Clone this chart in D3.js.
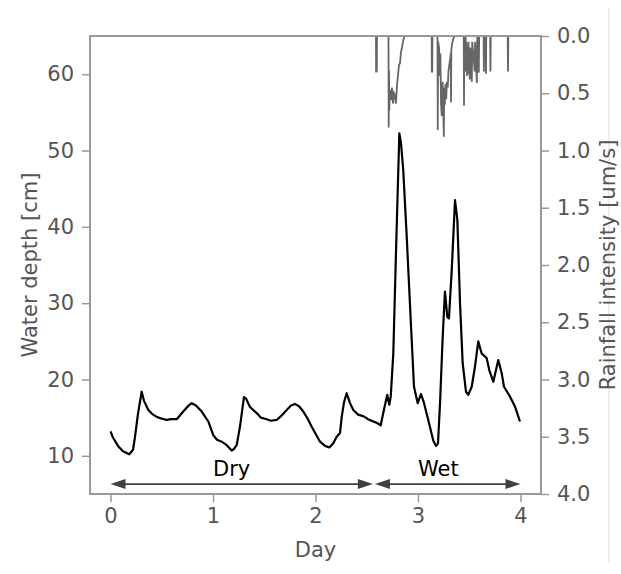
<!DOCTYPE html>
<html>
<head>
<meta charset="utf-8">
<script src="https://cdn.jsdelivr.net/npm/d3@7"></script>
<style>
  body { margin: 0; background: #fff; }
  svg text { font-family: "DejaVu Sans", sans-serif; }
</style>
</head>
<body>
<svg id="chart" width="621" height="574"></svg>
<script>
// 水深 (cm)
const depthDay = [0.0, 0.024, 0.073, 0.122, 0.183, 0.22, 0.239, 0.268, 0.304, 0.327, 0.369, 0.405, 0.451, 0.493, 0.548, 0.59, 0.646, 0.71, 0.756, 0.792, 0.834, 0.89, 0.954, 1.003, 1.039, 1.085, 1.134, 1.182, 1.205, 1.231, 1.263, 1.302, 1.322, 1.361, 1.426, 1.468, 1.524, 1.566, 1.621, 1.663, 1.719, 1.761, 1.8, 1.839, 1.881, 1.922, 1.963, 2.005, 2.044, 2.093, 2.135, 2.171, 2.207, 2.239, 2.256, 2.278, 2.304, 2.337, 2.369, 2.415, 2.466, 2.512, 2.564, 2.6, 2.636, 2.661, 2.7, 2.72, 2.734, 2.759, 2.785, 2.818, 2.834, 2.856, 2.89, 2.929, 2.961, 2.997, 3.029, 3.059, 3.1, 3.149, 3.176, 3.195, 3.215, 3.241, 3.263, 3.286, 3.302, 3.329, 3.361, 3.384, 3.41, 3.436, 3.468, 3.491, 3.524, 3.556, 3.588, 3.621, 3.67, 3.696, 3.735, 3.783, 3.817, 3.839, 3.898, 3.946, 3.995];
const depthCm = [13.2, 12.4, 11.3, 10.6, 10.2, 10.8, 12.5, 15.5, 18.4, 17.2, 16.0, 15.5, 15.1, 14.9, 14.7, 14.8, 14.8, 15.8, 16.5, 16.9, 16.6, 15.8, 14.5, 12.7, 12.1, 11.85, 11.4, 10.7, 10.9, 11.4, 13.8, 17.7, 17.5, 16.4, 15.6, 15.0, 14.8, 14.6, 14.7, 15.2, 16.0, 16.6, 16.8, 16.5, 15.8, 14.9, 13.8, 12.8, 11.85, 11.3, 11.1, 11.6, 12.5, 13.0, 15.1, 17.0, 18.2, 16.9, 16.0, 15.4, 15.2, 14.8, 14.5, 14.3, 14.0, 15.6, 18.0, 16.7, 17.75, 23.4, 36.5, 52.25, 51.0, 47.45, 38.7, 27.8, 19.05, 16.9, 18.1, 16.9, 14.7, 12.0, 11.3, 11.6, 16.9, 25.6, 31.5, 28.2, 28.0, 34.3, 43.5, 40.9, 30.0, 22.1, 18.4, 18.0, 19.05, 21.7, 25.0, 23.4, 22.8, 21.2, 19.7, 22.55, 20.8, 19.05, 17.75, 16.45, 14.5];

// 降雨強度 (um/s)
const rainDay = [2.58, 2.590, 2.591, 2.594, 2.595, 2.597, 2.598, 2.600,
  2.712, 2.714, 2.717, 2.720, 2.725, 2.737, 2.746, 2.756, 2.766, 2.776, 2.785, 2.795, 2.805, 2.815, 2.824, 2.834, 2.844, 2.858, 2.870,
  3.133, 3.135, 3.139, 3.141,
  3.190, 3.193, 3.196, 3.205, 3.212, 3.218, 3.225, 3.232, 3.240, 3.247, 3.252, 3.256, 3.262, 3.268, 3.275, 3.282, 3.290, 3.298, 3.306, 3.314, 3.320, 3.322, 3.325, 3.335, 3.345, 3.360,
  3.446, 3.449, 3.452, 3.465, 3.468, 3.471, 3.478, 3.482, 3.488, 3.492, 3.505, 3.509, 3.525, 3.529, 3.553, 3.557, 3.574, 3.578, 3.593, 3.597,
  3.640, 3.643, 3.646, 3.660, 3.663, 3.666, 3.704, 3.707, 3.710, 3.875, 3.878, 3.881, 4.0];
const rainRate = [0, 0, 0.31, 0.31, 0, 0, 0.31, 0,
  0, 0.80, 0.30, 0.65, 0.47, 0.56, 0.45, 0.59, 0.50, 0.52, 0.59, 0.43, 0.34, 0.25, 0.24, 0.14, 0.10, 0.03, 0,
  0, 0.31, 0.31, 0,
  0, 0.82, 0.05, 0.10, 0.35, 0.15, 0.60, 0.70, 0.40, 0.65, 0.88, 0.45, 0.60, 0.42, 0.55, 0.40, 0.45, 0.30, 0.25, 0.20, 0.15, 0.58, 0.12, 0.06, 0.02, 0,
  0, 0.61, 0, 0, 0.31, 0.05, 0.35, 0.08, 0.33, 0.05, 0.38, 0.10, 0.40, 0.05, 0.31, 0.05, 0.41, 0, 0.32, 0,
  0, 0.31, 0, 0, 0.33, 0, 0, 0.31, 0, 0, 0.31, 0, 0];

// 期間 (Dry / Wet)
const periodNames = ["Dry", "Wet"];
const periodStart = [0, 2.58];
const periodEnd = [2.56, 4.0];
const labelDay = [1.0, 3.0];
const labelDepth = 7.4;
const arrowDepth = 6.3;

const xTicks = [0, 1, 2, 3, 4];
const depthTicks = [10, 20, 30, 40, 50, 60];
const rainTicks = [0, 0.5, 1.0, 1.5, 2.0, 2.5, 3.0, 3.5, 4.0];

const svg = d3.select("#chart");
const margin = { top: 36, right: 80, bottom: 80, left: 90 };
const width = +svg.attr("width");
const height = +svg.attr("height");
const plotLeft = margin.left, plotRight = width - margin.right;
const plotTop = margin.top, plotBottom = height - margin.bottom;

const spineColor = "#999";
const textColor = "#555";
const fontSize = "21px";

const xScale = d3.scaleLinear().domain([-0.2, 4.2]).range([plotLeft, plotRight]);
const yDepth = d3.scaleLinear().domain([5, 65]).range([plotBottom, plotTop]);
const yRain = d3.scaleLinear().domain([0, 4]).range([plotTop, plotBottom]);

// 右端の細い縦線
svg.append("line")
    .attr("x1", 609).attr("x2", 609).attr("y1", 8).attr("y2", 562)
    .attr("stroke", "#ddd").attr("stroke-width", 1);

// 降雨
const rainData = rainDay.map((d, i) => ({ day: d, rate: rainRate[i] }));
svg.append("path")
    .datum(rainData)
    .attr("fill", "none")
    .attr("stroke", "#666")
    .attr("stroke-width", 1.8)
    .attr("d", d3.line().x(d => xScale(d.day)).y(d => yRain(d.rate)));

// 水深
const depthData = depthDay.map((d, i) => ({ day: d, depth: depthCm[i] }));
svg.append("path")
    .datum(depthData)
    .attr("fill", "none")
    .attr("stroke", "#000")
    .attr("stroke-width", 2.2)
    .attr("stroke-linejoin", "round")
    .attr("d", d3.line().x(d => xScale(d.day)).y(d => yDepth(d.depth)));

// 軸
function styleAxis(g) {
    g.select(".domain").remove();
    g.selectAll(".tick line").attr("stroke", spineColor).attr("stroke-width", 1.5);
    g.selectAll(".tick text").attr("fill", textColor).style("font-size", fontSize)
        .style("font-family", "DejaVu Sans, sans-serif");
}

svg.append("g").attr("transform", `translate(0,${plotBottom})`)
    .call(d3.axisBottom(xScale).tickValues(xTicks).tickFormat(d3.format("d")).tickSize(8).tickPadding(6))
    .call(styleAxis);

svg.append("g").attr("transform", `translate(${plotLeft},0)`)
    .call(d3.axisLeft(yDepth).tickValues(depthTicks).tickFormat(d3.format("d")).tickSize(8).tickPadding(8))
    .call(styleAxis);

svg.append("g").attr("transform", `translate(${plotRight},0)`)
    .call(d3.axisRight(yRain).tickValues(rainTicks).tickFormat(d3.format(".1f")).tickSize(8).tickPadding(8))
    .call(styleAxis);

// 枠
svg.append("rect")
    .attr("x", plotLeft).attr("y", plotTop)
    .attr("width", plotRight - plotLeft).attr("height", plotBottom - plotTop)
    .attr("fill", "none").attr("stroke", spineColor).attr("stroke-width", 2);

// 矢印
const arrowColor = "#404040";
periodNames.forEach((name, i) => {
    const x1 = xScale(periodStart[i]), x2 = xScale(periodEnd[i]);
    const y = yDepth(arrowDepth);
    const hl = 15, hw = 5;
    svg.append("line")
        .attr("x1", x1 + 4).attr("x2", x2 - 4).attr("y1", y).attr("y2", y)
        .attr("stroke", arrowColor).attr("stroke-width", 1.8);
    svg.append("path")
        .attr("d", `M${x1},${y}L${x1 + hl},${y - hw}L${x1 + hl},${y + hw}Z`)
        .attr("fill", arrowColor);
    svg.append("path")
        .attr("d", `M${x2},${y}L${x2 - hl},${y - hw}L${x2 - hl},${y + hw}Z`)
        .attr("fill", arrowColor);
    svg.append("text")
        .attr("x", xScale(labelDay[i]))
        .attr("y", yDepth(labelDepth))
        .attr("fill", "#000")
        .style("font-size", fontSize)
        .text(name);
});

// ラベル
svg.append("text")
    .attr("x", (plotLeft + plotRight) / 2)
    .attr("y", height - 17)
    .attr("text-anchor", "middle")
    .attr("fill", textColor)
    .style("font-size", fontSize)
    .text("Day");

svg.append("text")
    .attr("transform", "rotate(-90)")
    .attr("x", -(plotTop + plotBottom) / 2)
    .attr("y", 37)
    .attr("text-anchor", "middle")
    .attr("fill", textColor)
    .style("font-size", fontSize)
    .text("Water depth [cm]");

svg.append("text")
    .attr("transform", "rotate(-90)")
    .attr("x", -(plotTop + plotBottom) / 2)
    .attr("y", 615)
    .attr("text-anchor", "middle")
    .attr("fill", textColor)
    .style("font-size", fontSize)
    .text("Rainfall intensity [um/s]");
</script>
</body>
</html>
